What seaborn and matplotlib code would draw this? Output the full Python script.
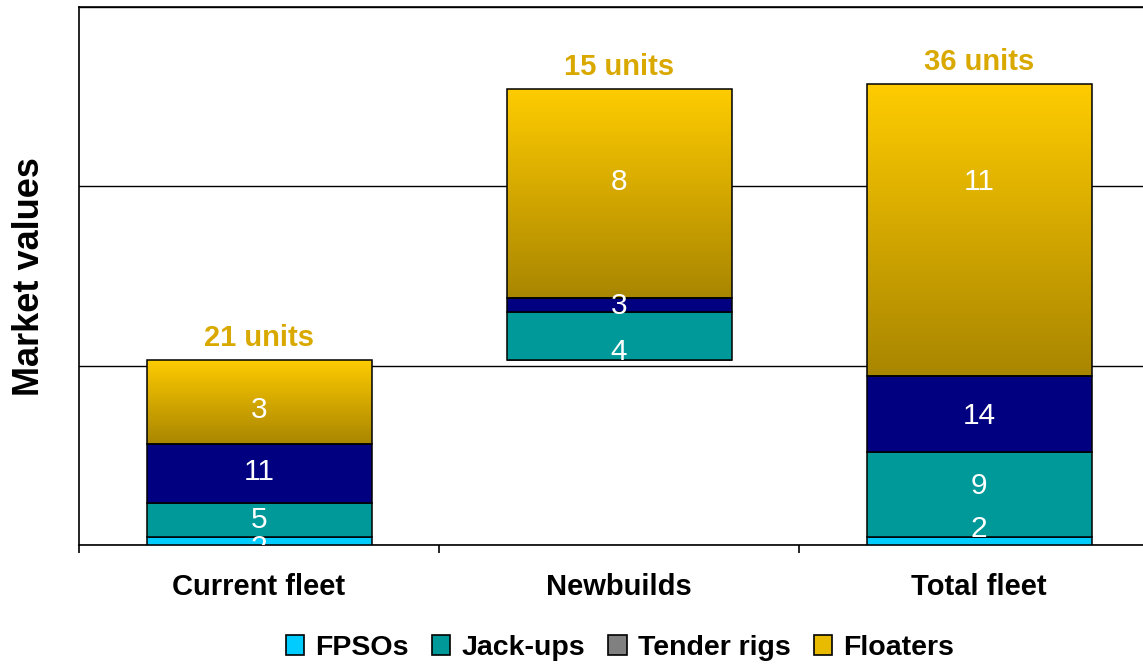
import numpy as np
import matplotlib
matplotlib.use("Agg")
import matplotlib.pyplot as plt
from matplotlib.colors import LinearSegmentedColormap
from matplotlib.patches import Patch
import seaborn as sns

categories = ["Current fleet", "Newbuilds", "Total fleet"]
segments = ["FPSOs", "Jack-ups", "Tender rigs", "Floaters"]

# market value of each segment (bar heights)
fpso_value = [0.045, 0.0, 0.045]
jackup_value = [0.19, 0.263, 0.475]
tender_value = [0.33, 0.078, 0.425]
floater_value = [0.469, 1.168, 1.626]

# unit counts written on the segments
fpso_units = [2, None, 2]
jackup_units = [5, 4, 9]
tender_units = [11, 3, 14]
floater_units = [3, 8, 11]
total_units = [21, 15, 36]

# vertical placement of the unit labels (value axis)
fpso_label_y = [-0.014, None, 0.089]
jackup_label_y = [0.142, 1.075, 0.330]
tender_label_y = [0.408, 1.335, 0.721]
floater_label_y = [0.751, 2.022, 2.022]

seg_colors = ["#00CCFF", "#009999", "#000080", None]
legend_colors = ["#00CCFF", "#009999", "#808080", "#E8BA00"]
gold_cmap = LinearSegmentedColormap.from_list("gold", ["#A88600", "#D4A800", "#FFCC00"])

sns.set_theme(style="white")
plt.rcParams["font.family"] = ["Liberation Sans", "DejaVu Sans"]
plt.rcParams["text.color"] = "black"
plt.rcParams["xtick.color"] = "black"
plt.rcParams["axes.labelcolor"] = "black"

fig = plt.figure(figsize=(11.43, 6.65), dpi=100)
ax = fig.add_axes([79 / 1143, 120 / 665, 1080 / 1143, 538 / 665])

# newbuilds start where the current fleet ends
current_total = fpso_value[0] + jackup_value[0] + tender_value[0] + floater_value[0]
bottom = np.array([0.0, current_total, 0.0])

values = [fpso_value, jackup_value, tender_value, floater_value]
units = [fpso_units, jackup_units, tender_units, floater_units]
label_ys = [fpso_label_y, jackup_label_y, tender_label_y, floater_label_y]

bar_width = 0.625
for seg, vals, col in zip(segments, values, seg_colors):
    n_before = len(ax.patches)
    sns.barplot(x=categories, y=vals, order=categories, bottom=bottom,
                color=col if col else "#FFCC00", saturation=1, width=bar_width,
                edgecolor="black", linewidth=1.1, errorbar=None, ax=ax, zorder=3)
    new_patches = ax.patches[n_before:]
    if col is None:
        # vertical gold gradient inside the floater segments
        grad = np.linspace(0, 1, 256).reshape(-1, 1)
        for p in new_patches:
            x0, y0, w, h = p.get_x(), p.get_y(), p.get_width(), p.get_height()
            im = ax.imshow(grad, cmap=gold_cmap, origin="lower", aspect="auto",
                           extent=[x0, x0 + w, y0, y0 + h], zorder=2.5)
            im.set_clip_path(p)
            p.set_facecolor("none")
    bottom = bottom + np.array(vals)

tops = bottom

for u_list, y_list in zip(units, label_ys):
    for i, (u, y) in enumerate(zip(u_list, y_list)):
        if u is None:
            continue
        ax.text(i, y, str(u), ha="center", va="center", color="white",
                fontsize=21.5, zorder=5, clip_on=True)

for i, (t, top) in enumerate(zip(total_units, tops)):
    ax.annotate(f"{t} units", xy=(i, top), xytext=(0, 15.5), textcoords="offset points",
                ha="center", va="center", color="#D9A900", fontsize=21,
                fontweight="bold", zorder=5)

ax.set_xlim(-0.5, 2.5)
ax.set_ylim(0, 3)
ax.set_yticks([0, 1, 2, 3])
ax.set_yticklabels([])
ax.yaxis.grid(True, color="black", linewidth=1.0)
ax.xaxis.grid(False)
ax.set_axisbelow(True)
ax.tick_params(axis="y", length=0)
ax.set_xticks([0, 1, 2])
ax.set_xticklabels(categories, fontsize=21, fontweight="bold", color="black")
ax.tick_params(axis="x", which="major", length=0, pad=20)
ax.set_xticks([-0.5, 0.5, 1.5, 2.5], minor=True)
ax.tick_params(axis="x", which="minor", length=6, width=1.2, color="black",
               direction="out", bottom=True)
ax.set_xlabel("")
ax.set_ylabel("")
for s in ax.spines.values():
    s.set_color("black")
    s.set_linewidth(1.2)

fig.text(30 / 1143, 1 - 277 / 665, "Market values", rotation=90, ha="center",
         va="center", fontsize=26, fontweight="bold", color="black")

handles = [Patch(facecolor=c, edgecolor="black", linewidth=1.2) for c in legend_colors]
leg = fig.legend(handles, segments, loc="center", bbox_to_anchor=(620 / 1143, 1 - 648 / 665),
                 ncol=4, frameon=False, prop={"weight": "bold", "size": 20.5},
                 handlelength=0.65, handleheight=0.65, handletextpad=0.4, columnspacing=0.8)
for txt in leg.get_texts():
    txt.set_color("black")

fig.savefig("out.png", dpi=100)
